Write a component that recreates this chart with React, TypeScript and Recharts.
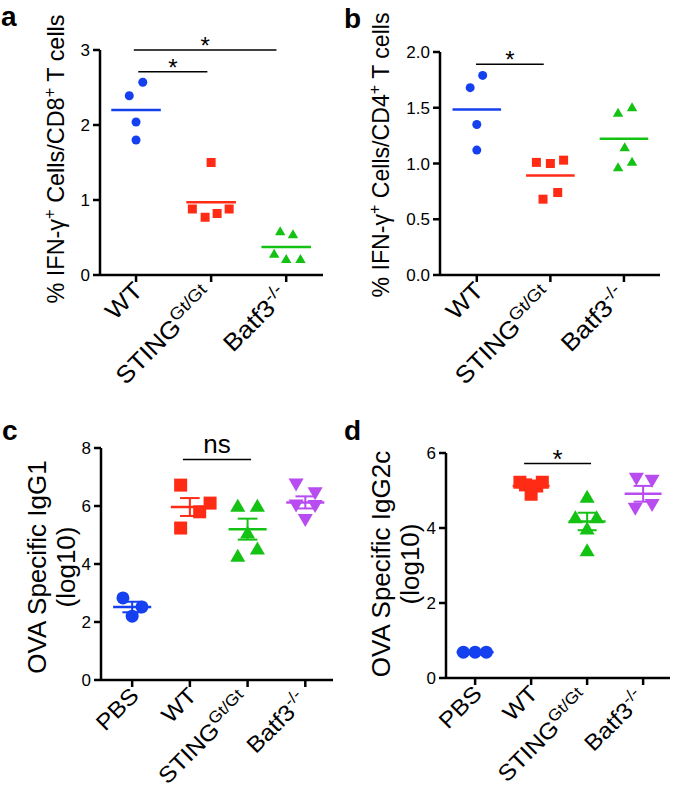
import React from 'react';
import { ScatterChart, Scatter, XAxis, YAxis, ReferenceLine } from 'recharts';

const FONT = '"Liberation Sans", Arial, Helvetica, sans-serif';
const BLUE = '#1440f0';
const RED = '#ff2b14';
const GREEN = '#14c214';
const PURPLE = '#b84cf0';

// categories + superscripts for the tick labels
const catsAB = ['WT', 'STING', 'Batf3'];
const supsAB = ['', 'Gt/Gt', '-/-'];
const catsCD = ['PBS', 'WT', 'STING', 'Batf3'];
const supsCD = ['', '', 'Gt/Gt', '-/-'];

// a: % IFN-γ+ cells / CD8+ T cells (x = horizontal jitter inside the group)
const aWT = [2.57, 2.39, 2.04, 1.8];
const aWTx = [0.09, -0.09, 0, 0];
const aSting = [1.5, 0.88, 0.77, 0.82, 0.88];
const aStingX = [0, -0.25, -0.08, 0.08, 0.24];
const aBatf3 = [0.59, 0.55, 0.29, 0.22, 0.22];
const aBatf3X = [-0.08, 0.09, -0.16, 0, 0.19];

// b: % IFN-γ+ cells / CD4+ T cells
const bWT = [1.79, 1.68, 1.35, 1.12];
const bWTx = [0.08, -0.09, 0, 0];
const bSting = [1.01, 1.0, 1.03, 0.74, 0.68];
const bStingX = [-0.19, 0, 0.18, 0.1, -0.1];
const bBatf3 = [1.46, 1.51, 1.15, 1.02, 0.97];
const bBatf3X = [-0.08, 0.11, 0.01, 0.11, -0.08];

// c: OVA specific IgG1 (log10)
const cPBS = [2.83, 2.52, 2.2];
const cPBSx = [-0.16, 0.17, 0];
const cWT = [6.72, 6.1, 5.8, 5.24];
const cWTx = [-0.16, 0.35, 0.17, -0.16];
const cSting = [6.03, 6.03, 5.1, 4.55, 4.3];
const cStingX = [-0.17, 0.17, 0, 0.17, -0.17];
const cBatf3 = [6.72, 6.42, 6.0, 5.98, 5.5];
const cBatf3X = [-0.16, 0.17, -0.16, 0.17, 0];

// d: OVA specific IgG2c (log10)
const dPBS = [0.69, 0.69, 0.69];
const dPBSx = [-0.21, 0, 0.2];
const dWT = [5.22, 5.22, 5.15, 5.12, 4.9];
const dWTx = [-0.2, 0.2, -0.1, 0.1, 0];
const dSting = [4.85, 4.3, 4.3, 4.0, 3.42];
const dStingX = [0, -0.21, 0.17, 0, 0];
const dBatf3 = [5.3, 5.25, 4.6, 4.5];
const dBatf3X = [-0.12, 0.16, 0.16, -0.14];

// significance bars: [from group, to group, height, text]
const aBars = [[-0.03, 1.87, 3, '*'], [0.03, 0.95, 2.71, '*']];
const bBars = [[-0.01, 0.91, 1.89, '*']];
const cBars = [[0.88, 2.06, 7.6, 'ns']];
const dBars = [[0.875, 2.07, 5.72, '*']];

const mean = (v: number[]) => v.reduce((a, b) => a + b, 0) / v.length;
const sem = (v: number[]) => {
  const m = mean(v);
  return Math.sqrt(v.reduce((a, b) => a + (b - m) ** 2, 0) / (v.length - 1) / v.length);
};
const pts = (g: number, vals: number[], jit: number[]) => vals.map((v, i) => ({ x: g + jit[i], y: v }));

let ctx: CanvasRenderingContext2D | null = null;
function textWidth(t: string, size: number) {
  if (!ctx) ctx = document.createElement('canvas').getContext('2d');
  if (!ctx) return t.length * size * 0.5;
  ctx.font = `${size}px "Liberation Sans", Arial, sans-serif`;
  return ctx.measureText(t).width;
}

function marker(kind: string, color: string, s: number) {
  return (props: any) => {
    const { cx, cy } = props;
    if (cx == null || cy == null) return <g />;
    const h = s / 2;
    if (kind === 'circle') return <circle cx={cx} cy={cy} r={h} fill={color} />;
    if (kind === 'square') return <rect x={cx - h} y={cy - h} width={s} height={s} fill={color} />;
    const w = s * 0.58;
    const t = s * 0.5;
    if (kind === 'tri') return <polygon points={`${cx - w},${cy + t} ${cx + w},${cy + t} ${cx},${cy - t}`} fill={color} />;
    return <polygon points={`${cx - w},${cy - t} ${cx + w},${cy - t} ${cx},${cy + t}`} fill={color} />;
  };
}

function CatTick(props: any) {
  const { x, y, payload, cats, sups, font } = props;
  const i = Math.round(payload.value);
  const shift = sups[i] ? 5 : 0;
  return (
    <g transform={`translate(${x + 8 - shift},${y + 8 + shift})`}>
      <text transform="rotate(-45) scale(1.1,1)" textAnchor="end" fontSize={font} fontFamily={FONT} fill="#000">
        {cats[i]}
        {sups[i] ? <tspan dy={-9} fontSize={font * 0.71}>{sups[i]}</tspan> : null}
      </text>
    </g>
  );
}

function YLab(props: any) {
  const { viewBox, dx, dy, lines, fontSize, gap, len } = props;
  const bx = viewBox.x + dx;
  const cy = viewBox.y + viewBox.height / 2 + dy;
  return (
    <g>
      {lines.map((ln: any[], i: number) => {
        let k = 1;
        if (len) {
          const natural = ln.reduce((acc: number, seg: any) => acc + textWidth(seg.t, seg.sup ? 16 : fontSize), 0);
          k = len / natural;
        }
        return (
          <text
            key={i}
            transform={`translate(${bx + i * gap},${cy}) rotate(-90) scale(${k},1)`}
            textAnchor="middle"
            fontSize={fontSize}
            fontFamily={FONT}
            fill="#000"
          >
            {ln.map((seg: any, j: number) =>
              seg.sup ? (
                <tspan key={j} dy={-9} fontSize={16}>{seg.t}</tspan>
              ) : (
                <tspan key={j} dy={j > 0 && ln[j - 1].sup ? 9 : 0}>{seg.t}</tspan>
              )
            )}
          </text>
        );
      })}
    </g>
  );
}

function Panel(props: any) {
  const { left, top, width, height, margin, xDomain, yDomain, yTicks, yFmt, cats, sups, groups, bars, label, errors, size, sigSize, tickFont } = props;
  const xTicks = cats.map((_: string, i: number) => i);
  const axisStyle = { stroke: '#000', strokeWidth: 2.5 };
  const half = 0.33;
  const cap = 0.17;
  return (
    <div style={{ position: 'absolute', left, top }}>
      <ScatterChart width={width} height={height} margin={margin}>
        <XAxis
          type="number"
          dataKey="x"
          domain={xDomain}
          ticks={xTicks}
          allowDataOverflow
          axisLine={axisStyle}
          tickLine={axisStyle}
          tickSize={7}
          tickMargin={2}
          height={height - margin.top - margin.bottom - props.plotH}
          interval={0}
          tick={<CatTick cats={cats} sups={sups} font={tickFont} />}
        />
        <YAxis
          type="number"
          dataKey="y"
          domain={yDomain}
          ticks={yTicks}
          allowDataOverflow
          width={40}
          axisLine={axisStyle}
          tickLine={axisStyle}
          tickSize={7}
          tickMargin={3}
          tickFormatter={yFmt}
          tick={{ fontSize: 17, fill: '#000', fontFamily: FONT }}
          label={<YLab {...label} />}
        />
        {groups.map((g: any) => (
          <Scatter
            key={'s' + g.idx}
            data={pts(g.idx, g.vals, g.jit)}
            fill={g.color}
            shape={marker(g.shape, g.color, size)}
            isAnimationActive={false}
          />
        ))}
        {groups.map((g: any) => (
          <ReferenceLine
            key={'m' + g.idx}
            segment={[{ x: g.idx - half, y: mean(g.vals) }, { x: g.idx + half, y: mean(g.vals) }]}
            stroke={g.color}
            strokeWidth={2.5}
            ifOverflow="visible"
          />
        ))}
        {errors &&
          groups.map((g: any) => {
            const m = mean(g.vals);
            const s = sem(g.vals);
            return [
              <ReferenceLine key={'ev' + g.idx} segment={[{ x: g.idx, y: m - s }, { x: g.idx, y: m + s }]} stroke={g.color} strokeWidth={2} ifOverflow="visible" />,
              <ReferenceLine key={'eu' + g.idx} segment={[{ x: g.idx - cap, y: m + s }, { x: g.idx + cap, y: m + s }]} stroke={g.color} strokeWidth={2} ifOverflow="visible" />,
              <ReferenceLine key={'el' + g.idx} segment={[{ x: g.idx - cap, y: m - s }, { x: g.idx + cap, y: m - s }]} stroke={g.color} strokeWidth={2} ifOverflow="visible" />,
            ];
          })}
        {bars.map((b: any[], i: number) => (
          <ReferenceLine
            key={'b' + i}
            segment={[{ x: b[0], y: b[2] }, { x: b[1], y: b[2] }]}
            stroke="#000"
            strokeWidth={1.5}
            ifOverflow="visible"
            label={{ value: b[3], position: 'top', offset: b[3] === 'ns' ? 7 : -4, fontSize: b[3] === 'ns' ? 26 : sigSize, fill: '#000', fontFamily: FONT }}
          />
        ))}
      </ScatterChart>
    </div>
  );
}

export default function App() {
  const yl1 = [[{ t: '% IFN-γ' }, { t: '+', sup: true }, { t: ' Cells/CD8' }, { t: '+', sup: true }, { t: ' T cells' }]];
  const yl2 = [[{ t: '% IFN-γ' }, { t: '+', sup: true }, { t: ' Cells/CD4' }, { t: '+', sup: true }, { t: ' T cells' }]];
  const yl3 = [[{ t: 'OVA Specific IgG1' }], [{ t: '(log10)' }]];
  const yl4 = [[{ t: 'OVA Specific IgG2c' }], [{ t: '(log10)' }]];
  return (
    <div style={{ position: 'absolute', left: 0, top: 0, width: 675, height: 793, background: '#fff', fontFamily: FONT }}>
      <Panel
        left={0} top={0} width={340} height={400} plotH={225}
        margin={{ top: 50, right: 17, bottom: 0, left: 60 }}
        xDomain={[-0.48, 2.49]} yDomain={[0, 3]} yTicks={[0, 1, 2, 3]}
        cats={catsAB} sups={supsAB} size={9} sigSize={24} tickFont={24}
        groups={[
          { idx: 0, vals: aWT, jit: aWTx, color: BLUE, shape: 'circle' },
          { idx: 1, vals: aSting, jit: aStingX, color: RED, shape: 'square' },
          { idx: 2, vals: aBatf3, jit: aBatf3X, color: GREEN, shape: 'tri' },
        ]}
        bars={aBars}
        label={{ dx: 4, dy: -3.5, lines: yl1, fontSize: 23, gap: 0, len: 290 }}
      />
      <Panel
        left={335} top={0} width={340} height={400} plotH={223}
        margin={{ top: 52, right: 15, bottom: 0, left: 65 }}
        xDomain={[-0.5, 2.49]} yDomain={[0, 2]} yTicks={[0, 0.5, 1, 1.5, 2]}
        yFmt={(v: number) => v.toFixed(1)}
        cats={catsAB} sups={supsAB} size={9} sigSize={24} tickFont={24}
        groups={[
          { idx: 0, vals: bWT, jit: bWTx, color: BLUE, shape: 'circle' },
          { idx: 1, vals: bSting, jit: bStingX, color: RED, shape: 'square' },
          { idx: 2, vals: bBatf3, jit: bBatf3X, color: GREEN, shape: 'tri' },
        ]}
        bars={bBars}
        label={{ dx: -11, dy: -8.5, lines: yl2, fontSize: 23, gap: 0, len: 286 }}
      />
      <Panel
        left={0} top={395} width={340} height={398} plotH={232}
        margin={{ top: 53, right: 7, bottom: 0, left: 61 }}
        xDomain={[-0.54, 3.48]} yDomain={[0, 8]} yTicks={[0, 2, 4, 6, 8]}
        cats={catsCD} sups={supsCD} size={13} sigSize={24} tickFont={22.5} errors
        groups={[
          { idx: 0, vals: cPBS, jit: cPBSx, color: BLUE, shape: 'circle' },
          { idx: 1, vals: cWT, jit: cWTx, color: RED, shape: 'square' },
          { idx: 2, vals: cSting, jit: cStingX, color: GREEN, shape: 'tri' },
          { idx: 3, vals: cBatf3, jit: cBatf3X, color: PURPLE, shape: 'itri' },
        ]}
        bars={cBars}
        label={{ dx: -15, dy: 3, lines: yl3, fontSize: 26, gap: 29 }}
      />
      <Panel
        left={335} top={395} width={340} height={398} plotH={225}
        margin={{ top: 58, right: 5, bottom: 0, left: 71 }}
        xDomain={[-0.52, 3.48]} yDomain={[0, 6]} yTicks={[0, 2, 4, 6]}
        cats={catsCD} sups={supsCD} size={13} sigSize={26} tickFont={22.5} errors
        groups={[
          { idx: 0, vals: dPBS, jit: dPBSx, color: BLUE, shape: 'circle' },
          { idx: 1, vals: dWT, jit: dWTx, color: RED, shape: 'square' },
          { idx: 2, vals: dSting, jit: dStingX, color: GREEN, shape: 'tri' },
          { idx: 3, vals: dBatf3, jit: dBatf3X, color: PURPLE, shape: 'itri' },
        ]}
        bars={dBars}
        label={{ dx: -16, dy: -1.5, lines: yl4, fontSize: 26, gap: 29 }}
      />
      <svg width={675} height={793} style={{ position: 'absolute', left: 0, top: 0, pointerEvents: 'none' }}>
        <g fontFamily={FONT} fontWeight="bold" fontSize={28} fill="#000">
          <text x={1} y={26}>a</text>
          <text x={344} y={28}>b</text>
          <text x={2} y={440}>c</text>
          <text x={344} y={440}>d</text>
        </g>
      </svg>
    </div>
  );
}
